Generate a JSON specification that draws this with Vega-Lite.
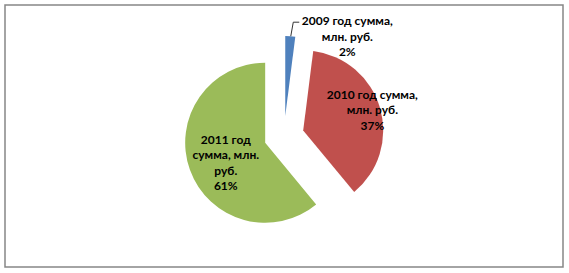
{
  "$schema": "https://vega.github.io/schema/vega-lite/v6.json",
  "width": 558,
  "height": 262,
  "autosize": {"type": "none"},
  "padding": {"left": 5, "top": 5, "right": 6, "bottom": 6},
  "background": "white",
  "config": {"view": {"stroke": "#868686", "strokeWidth": 1.5}},
  "data": {
    "values": [
      {"year": "2009", "label": "2009 год сумма,\nмлн. руб.", "pct": 2, "order": 1},
      {"year": "2010", "label": "2010 год сумма,\nмлн. руб.", "pct": 37, "order": 2},
      {"year": "2011", "label": "2011 год\nсумма, млн.\nруб.", "pct": 61, "order": 3}
    ]
  },
  "transform": [
    {"window": [{"op": "sum", "field": "pct", "as": "end"}], "sort": [{"field": "order"}], "frame": [null, 0]},
    {"calculate": "datum.end - datum.pct", "as": "start"},
    {"calculate": "datum.start + datum.pct / 2", "as": "midpct"},
    {"calculate": "datum.midpct / 100 * 2 * PI", "as": "mid"},
    {"calculate": "20 * sin(datum.mid)", "as": "ex"},
    {"calculate": "20 * cos(datum.mid)", "as": "ey"},
    {"calculate": "datum.label + '\\n' + datum.pct + '%'", "as": "text"}
  ],
  "layer": [
    {
      "mark": {"type": "arc", "radius": 80},
      "encoding": {
        "x": {"field": "ex", "type": "quantitative", "scale": {"domain": [-279, 279], "nice": false, "zero": false}, "axis": null},
        "y": {"field": "ey", "type": "quantitative", "scale": {"domain": [-131, 131], "nice": false, "zero": false}, "axis": null},
        "theta": {"field": "start", "type": "quantitative", "stack": null, "scale": {"domain": [0, 100], "range": [0, 6.283185307179586]}},
        "theta2": {"field": "end"},
        "color": {"field": "year", "type": "nominal", "scale": {"domain": ["2009", "2010", "2011"], "range": ["#4F81BD", "#C0504D", "#9BBB59"]}, "legend": null}
      }
    },
    {
      "transform": [
        {"filter": "datum.year == '2009'"},
        {"calculate": "100 * sin(datum.mid) + 0.5", "as": "ax"},
        {"calculate": "100 * cos(datum.mid)", "as": "ay"},
        {"calculate": "datum.ax + 2.5", "as": "bx"},
        {"calculate": "datum.ay + 14", "as": "by"}
      ],
      "mark": {"type": "rule", "color": "#333333", "strokeWidth": 1},
      "encoding": {
        "x": {"field": "ax", "type": "quantitative", "scale": {"domain": [-279, 279], "nice": false, "zero": false}, "axis": null},
        "y": {"field": "ay", "type": "quantitative", "scale": {"domain": [-131, 131], "nice": false, "zero": false}, "axis": null},
        "x2": {"field": "bx"},
        "y2": {"field": "by"}
      }
    },
    {
      "transform": [
        {"filter": "datum.year == '2009'"},
        {"calculate": "100 * sin(datum.mid) + 3", "as": "bx"},
        {"calculate": "100 * cos(datum.mid) + 14", "as": "by"},
        {"calculate": "datum.bx + 6", "as": "cx"}
      ],
      "mark": {"type": "rule", "color": "#333333", "strokeWidth": 1},
      "encoding": {
        "x": {"field": "bx", "type": "quantitative", "scale": {"domain": [-279, 279], "nice": false, "zero": false}, "axis": null},
        "y": {"field": "by", "type": "quantitative", "scale": {"domain": [-131, 131], "nice": false, "zero": false}, "axis": null},
        "x2": {"field": "cx"}
      }
    },
    {
      "transform": [{"filter": "datum.year == '2009'"}],
      "mark": {"type": "text", "radius": 100, "dx": 57, "dy": -15, "font": "Lato", "fontWeight": "bold", "fontSize": 12, "lineHeight": 15.5, "lineBreak": "\n", "align": "center", "baseline": "middle", "color": "black"},
      "encoding": {
        "x": {"datum": 0, "type": "quantitative", "scale": {"domain": [-279, 279], "nice": false, "zero": false}, "axis": null},
        "y": {"datum": 0, "type": "quantitative", "scale": {"domain": [-131, 131], "nice": false, "zero": false}, "axis": null},
        "theta": {"field": "midpct", "type": "quantitative", "stack": null, "scale": {"domain": [0, 100], "range": [0, 6.283185307179586]}},
        "text": {"field": "text"}
      }
    },
    {
      "transform": [{"filter": "datum.year == '2010'"}],
      "mark": {"type": "text", "radius": 92, "dy": -15.5, "font": "Lato", "fontWeight": "bold", "fontSize": 12, "lineHeight": 15.5, "lineBreak": "\n", "align": "center", "baseline": "middle", "color": "black"},
      "encoding": {
        "x": {"datum": 0, "type": "quantitative", "scale": {"domain": [-279, 279], "nice": false, "zero": false}, "axis": null},
        "y": {"datum": 0, "type": "quantitative", "scale": {"domain": [-131, 131], "nice": false, "zero": false}, "axis": null},
        "theta": {"field": "midpct", "type": "quantitative", "stack": null, "scale": {"domain": [0, 100], "range": [0, 6.283185307179586]}},
        "text": {"field": "text"}
      }
    },
    {
      "transform": [{"filter": "datum.year == '2011'"}],
      "mark": {"type": "text", "radius": 64, "dx": 2, "dy": -18, "font": "Lato", "fontWeight": "bold", "fontSize": 12, "lineHeight": 15.5, "lineBreak": "\n", "align": "center", "baseline": "middle", "color": "black"},
      "encoding": {
        "x": {"datum": 0, "type": "quantitative", "scale": {"domain": [-279, 279], "nice": false, "zero": false}, "axis": null},
        "y": {"datum": 0, "type": "quantitative", "scale": {"domain": [-131, 131], "nice": false, "zero": false}, "axis": null},
        "theta": {"field": "midpct", "type": "quantitative", "stack": null, "scale": {"domain": [0, 100], "range": [0, 6.283185307179586]}},
        "text": {"field": "text"}
      }
    }
  ]
}
